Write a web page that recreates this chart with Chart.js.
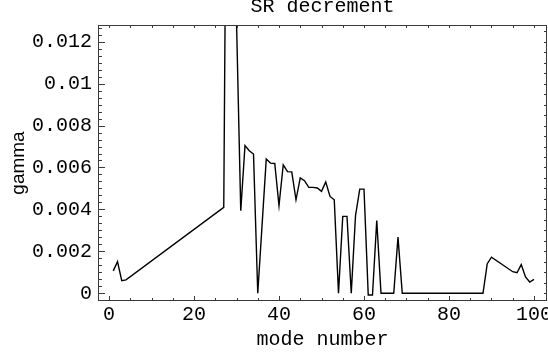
<!DOCTYPE html>
<html>
<head>
<meta charset="utf-8">
<script src="https://cdn.jsdelivr.net/npm/chart.js@4/dist/chart.umd.min.js"></script>
<style>
  html, body { margin: 0; padding: 0; background: #fff; }
  canvas { display: block; }
</style>
</head>
<body>
<canvas id="chart" width="548" height="354"></canvas>
<script>
// SR decrement per mode number
const modeNumbers = [
  1, 2, 3, 4, 27, 28, 29, 30, 31, 32, 33, 34, 35, 37, 38, 39, 40,
  41, 42, 43, 44, 45, 46, 47, 48, 49, 50, 51, 52, 53, 54, 55, 56,
  57, 58, 59, 60, 61, 62, 63, 64, 65, 66, 67, 68, 69, 70, 71, 72,
  73, 74, 75, 76, 77, 78, 79, 80, 81, 82, 83, 84, 85, 86, 87, 88,
  89, 90, 95, 96, 97, 98, 99, 100
];
const gammaValues = [
  0.00107, 0.00151, 0.00060, 0.00064, 0.00410, 0.033, 0.035, 0.0130,
  0.00394, 0.00705, 0.00680, 0.00664, 0.0, 0.00640, 0.00621, 0.00619, 0.00418,
  0.00613, 0.00580, 0.00579, 0.00446, 0.00550, 0.00537, 0.00505, 0.00505,
  0.00502, 0.00486, 0.00531, 0.00462, 0.00446, 0.0, 0.00367, 0.00367,
  0.0, 0.00370, 0.00497, 0.00497, -0.00008, -0.00008, 0.00347, 0.0, 0.0,
  0.0, 0.0, 0.00268, 0.0, 0.0, 0.0, 0.0, 0.0, 0.0, 0.0, 0.0, 0.0, 0.0,
  0.0, 0.0, 0.0, 0.0, 0.0, 0.0, 0.0, 0.0, 0.0, 0.0,
  0.00141, 0.00172, 0.00103, 0.00098, 0.00137, 0.00078, 0.00054, 0.00066
];

// Axis ticks
const xTickValues = [0, 20, 40, 60, 80, 100];
const xTickLabels = ['0', '20', '40', '60', '80', '100'];
const yTickValues = [0, 0.002, 0.004, 0.006, 0.008, 0.01, 0.012];
const yTickLabels = ['0', '0.002', '0.004', '0.006', '0.008', '0.01', '0.012'];

const MONO = '"Courier New", "Liberation Mono", monospace';
const SANS = '"Liberation Sans", Arial, sans-serif';

// Frame with inward tick marks on all four sides
const frameTicks = {
  id: 'frameTicks',
  afterDatasetsDraw(chart) {
    const { ctx, chartArea: a, scales: { x, y } } = chart;
    const snap = p => Math.round(p) + 0.5;
    ctx.save();
    ctx.lineWidth = 1;
    ctx.strokeStyle = '#3a3a3a';
    ctx.strokeRect(a.left + 0.5, a.top + 0.5, a.right - a.left - 1, a.bottom - a.top - 1);

    ctx.beginPath();
    // bottom: majors every 20, minors every 5
    for (let v = 0; v <= 100; v += 5) {
      const px = snap(x.getPixelForValue(v));
      const len = xTickValues.includes(v) ? 5 : 3;
      ctx.moveTo(px, a.bottom);
      ctx.lineTo(px, a.bottom - len);
      // top: small marks every 5
      ctx.moveTo(px, a.top);
      ctx.lineTo(px, a.top + 3);
    }
    // left: majors every 0.002, five minors between
    const yStep = 0.002 / 6;
    for (let k = -1; k * yStep <= y.max; k++) {
      const v = k * yStep;
      if (v < y.min) continue;
      const py = snap(y.getPixelForValue(v));
      const len = (k % 6 === 0) ? 7 : 4;
      ctx.moveTo(a.left, py);
      ctx.lineTo(a.left + len, py);
    }
    // right: small marks every 0.0005
    for (let k = 0; k * 0.0005 <= y.max; k++) {
      const py = snap(y.getPixelForValue(k * 0.0005));
      ctx.moveTo(a.right, py);
      ctx.lineTo(a.right - 3, py);
    }
    ctx.stroke();
    ctx.restore();
  }
};

new Chart(document.getElementById('chart'), {
  type: 'line',
  data: {
    datasets: [{
      data: modeNumbers.map((m, i) => ({ x: m, y: gammaValues[i] })),
      borderColor: '#000',
      borderWidth: 1.4,
      pointRadius: 0,
      tension: 0,
      fill: false
    }]
  },
  options: {
    responsive: false,
    animation: false,
    devicePixelRatio: 1,
    layout: { padding: { left: 0, right: 1, top: 0, bottom: 0 } },
    plugins: {
      legend: { display: false },
      tooltip: { enabled: false },
      title: {
        display: true,
        text: 'SR decrement',
        fullSize: false,
        color: '#000',
        font: { family: MONO, size: 20, weight: 'normal', lineHeight: 1.2 },
        padding: { top: -5, bottom: 6 }
      }
    },
    scales: {
      x: {
        type: 'linear',
        position: 'bottom',
        min: -2.59,
        max: 103.06,
        grid: { display: false, drawTicks: false },
        border: { display: false },
        afterBuildTicks: s => { s.ticks = xTickValues.map(v => ({ value: v })); },
        afterFit: s => { s.height = 53; s.paddingLeft = 0; s.paddingRight = 0; },
        ticks: {
          color: '#000',
          font: { family: MONO, size: 20 },
          padding: 2,
          maxRotation: 0,
          autoSkip: false,
          callback: (v, i) => xTickLabels[i]
        },
        title: {
          display: true,
          text: 'mode number',
          color: '#000',
          font: { family: MONO, size: 20, lineHeight: 1.2 },
          padding: { top: 0, bottom: 2 }
        }
      },
      y: {
        type: 'linear',
        position: 'left',
        min: -0.000367,
        max: 0.012795,
        grid: { display: false, drawTicks: false },
        border: { display: false },
        afterBuildTicks: s => { s.ticks = yTickValues.map(v => ({ value: v })); },
        afterFit: s => { s.width = 98; s.paddingTop = 0; s.paddingBottom = 0; },
        ticks: {
          color: '#000',
          font: { family: MONO, size: 20 },
          padding: 6,
          autoSkip: false,
          callback: (v, i) => yTickLabels[i]
        },
        title: {
          display: true,
          text: 'gamma',
          color: '#000',
          font: { family: SANS, size: 19, lineHeight: 1.2 },
          padding: { top: 7, bottom: 0 }
        }
      }
    }
  },
  plugins: [frameTicks]
});
</script>
</body>
</html>
